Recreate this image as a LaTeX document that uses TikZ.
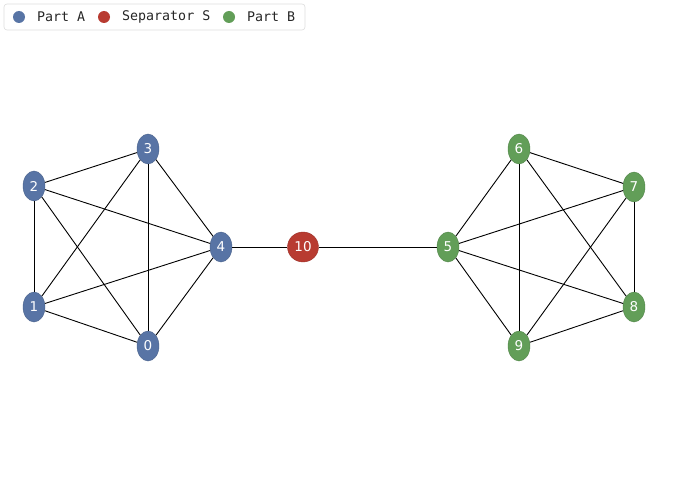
\documentclass[tikz,border=0pt]{standalone}
\usepackage{fontspec}
\setmainfont{DejaVu Sans}
\newfontfamily\legmono{DejaVu Sans Mono}
\usetikzlibrary{shapes.geometric}
\definecolor{pa}{HTML}{5874A5}
\definecolor{ps}{HTML}{B83B31}
\definecolor{pb}{HTML}{629E58}
\definecolor{legborder}{HTML}{DDDDDD}
\tikzset{
  vtx/.style={ellipse, inner sep=0pt, minimum width=22pt, minimum height=30pt, draw=#1!85!black, line width=0.4pt, fill=#1, text=white, font=\fontsize{13.5}{14}\selectfont},
  edge/.style={black, line width=0.9pt},
  legdot/.style={circle, inner sep=0pt, minimum size=12pt, fill=#1},
  legtxt/.style={anchor=west, inner sep=0pt, font=\legmono\fontsize{13.3}{14}\selectfont, text=black!85}
}
\begin{document}
\begin{tikzpicture}[x=1pt,y=-1pt]
\useasboundingbox (0,0) rectangle (674,500);
% legend
\draw[legborder, rounded corners=3pt, fill=white, line width=0.6pt] (4,4) rectangle (305,30);
\node[legdot=pa] (la) at (19,17) {};
\node[legtxt] (lta) at (37,17) {Part A};
\node[legdot=ps] (ls) at (104,17) {};
\node[legtxt] (lts) at (122,17) {Separator S};
\node[legdot=pb] (lb) at (229,17) {};
\node[legtxt] (ltb) at (247,17) {Part B};
% nodes
\node[vtx=pa] (n0) at (148,346) {0};
\node[vtx=pa] (n1) at (34,307) {1};
\node[vtx=pa] (n2) at (34,186) {2};
\node[vtx=pa] (n3) at (148,149) {3};
\node[vtx=pa] (n4) at (221,247) {4};
\node[vtx=ps, minimum width=31pt] (n10) at (303,247) {10};
\node[vtx=pb] (n5) at (448,247) {5};
\node[vtx=pb] (n6) at (519,149) {6};
\node[vtx=pb] (n7) at (634,187) {7};
\node[vtx=pb] (n8) at (634,307) {8};
\node[vtx=pb] (n9) at (519,346) {9};
% edges
\foreach \a/\b in {0/1,0/2,0/3,0/4,1/2,1/3,1/4,2/3,2/4,3/4,5/6,5/7,5/8,5/9,6/7,6/8,6/9,7/8,7/9,8/9,4/10,10/5}
  \draw[edge] (n\a) -- (n\b);
\end{tikzpicture}
\end{document}
